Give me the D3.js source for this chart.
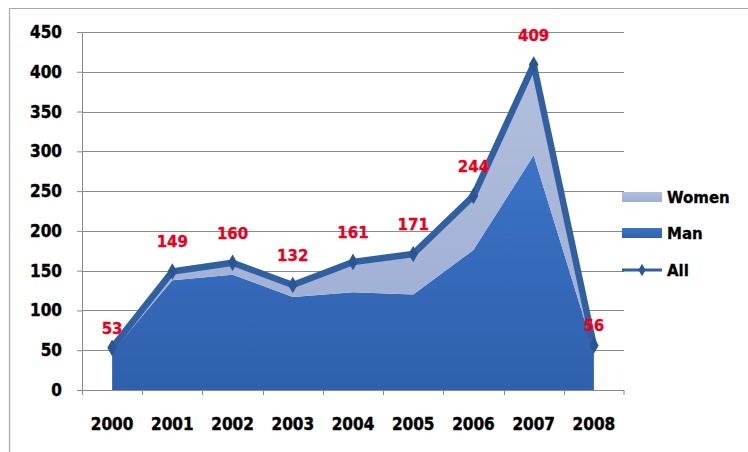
<!DOCTYPE html>
<html>
<head>
<meta charset="utf-8">
<script src="https://cdn.jsdelivr.net/npm/d3@7"></script>
<style>
  html, body { margin: 0; padding: 0; background: #ffffff; }
  svg { display: block; }
</style>
</head>
<body>
<svg id="chart" width="748" height="452"></svg>
<script>
// Yearly counts, 2000–2008
const years = ["2000", "2001", "2002", "2003", "2004", "2005", "2006", "2007", "2008"];
const man   = [48, 138, 145, 117, 123, 120, 176, 295, 50];
const women = [5, 11, 15, 15, 38, 51, 68, 114, 6];
const all   = [53, 149, 160, 132, 161, 171, 244, 409, 56];
const yTicks = [0, 50, 100, 150, 200, 250, 300, 350, 400, 450];
const legendItems = ["Women", "Man", "All"];

const svg = d3.select("#chart");

// outer frame of the figure
svg.append("line").attr("x1", 9.5).attr("x2", 748).attr("y1", 8.5).attr("y2", 8.5)
  .attr("stroke", "#a9a9a9").attr("stroke-width", 1.2);
svg.append("line").attr("x1", 9.5).attr("x2", 9.5).attr("y1", 8.5).attr("y2", 452)
  .attr("stroke", "#a9a9a9").attr("stroke-width", 1.2);

const plot = { left: 82, right: 624, top: 32, bottom: 390 };

const x = d3.scaleBand().domain(years).range([plot.left, plot.right]).paddingInner(0).paddingOuter(0);
const y = d3.scaleLinear().domain([0, 450]).range([plot.bottom, plot.top]);
const cx = d => x(d) + x.bandwidth() / 2;

const table = years.map((yr, i) => ({ year: yr, Man: man[i], Women: women[i], All: all[i] }));
const stacked = d3.stack().keys(["Man", "Women"])(table);

const defs = svg.append("defs");
const gMan = defs.append("linearGradient").attr("id", "gradMan")
  .attr("x1", 0).attr("y1", 0).attr("x2", 0).attr("y2", 1);
gMan.append("stop").attr("offset", "0%").attr("stop-color", "#3b73c6");
gMan.append("stop").attr("offset", "100%").attr("stop-color", "#2f60ad");
const gWomen = defs.append("linearGradient").attr("id", "gradWomen")
  .attr("x1", 0).attr("y1", 0).attr("x2", 0).attr("y2", 1);
gWomen.append("stop").attr("offset", "0%").attr("stop-color", "#b3bfdc");
gWomen.append("stop").attr("offset", "100%").attr("stop-color", "#9dadd4");

// horizontal gridlines
svg.append("g").selectAll("line").data(yTicks.filter(t => t > 0)).join("line")
  .attr("x1", plot.left).attr("x2", plot.right)
  .attr("y1", d => Math.round(y(d)) + 0.5).attr("y2", d => Math.round(y(d)) + 0.5)
  .attr("stroke", "#8a8a8a").attr("stroke-width", 1);

// y axis
const yAxis = svg.append("g").attr("transform", `translate(${plot.left},0)`)
  .call(d3.axisLeft(y).tickValues(yTicks).tickSize(5).tickPadding(15).tickSizeOuter(0));
yAxis.select(".domain").attr("stroke", "#8a8a8a");
yAxis.selectAll(".tick line").attr("stroke", "#8a8a8a");
yAxis.selectAll(".tick text")
  .attr("fill", "#000").attr("font-family", "'DejaVu Sans Condensed', 'DejaVu Sans', sans-serif")
  .style("font-stretch", "condensed").attr("font-weight", "bold").attr("font-size", "17px")
  .attr("stroke", "#000").attr("stroke-width", 0.4);

// stacked areas
const area = d3.area()
  .x(d => cx(d.data.year))
  .y0(d => y(d[0]))
  .y1(d => y(d[1]));
const fills = { Man: "url(#gradMan)", Women: "url(#gradWomen)" };
svg.append("g").selectAll("path").data(stacked).join("path")
  .attr("d", area)
  .attr("fill", d => fills[d.key]);

// x axis with ticks on category boundaries
const xg = svg.append("g");
xg.append("line").attr("x1", plot.left).attr("x2", plot.right)
  .attr("y1", plot.bottom + 0.5).attr("y2", plot.bottom + 0.5).attr("stroke", "#8a8a8a");
xg.selectAll("line.tk").data(years.concat(["end"])).join("line").attr("class", "tk")
  .attr("x1", d => d === "end" ? plot.right : Math.round(x(d)) + 0.5)
  .attr("x2", d => d === "end" ? plot.right : Math.round(x(d)) + 0.5)
  .attr("y1", plot.bottom).attr("y2", plot.bottom + 5).attr("stroke", "#8a8a8a");
xg.selectAll("text").data(years).join("text")
  .attr("x", d => cx(d)).attr("y", plot.bottom + 40)
  .attr("text-anchor", "middle")
  .attr("font-family", "'DejaVu Sans Condensed', 'DejaVu Sans', sans-serif")
  .style("font-stretch", "condensed").attr("font-weight", "bold").attr("font-size", "17px")
  .attr("stroke", "#000").attr("stroke-width", 0.4)
  .attr("fill", "#000").text(d => d);

// total line with diamond markers
const lineColor = "#30609f";
const line = d3.line().x(d => cx(d.year)).y(d => y(d.All));
svg.append("path").datum(table).attr("d", line)
  .attr("fill", "none").attr("stroke", lineColor).attr("stroke-width", 6.5)
  .attr("stroke-linejoin", "round");
const diamond = d3.symbol().type(d3.symbolDiamond).size(80);
svg.append("g").selectAll("path").data(table).join("path")
  .attr("transform", d => `translate(${cx(d.year)},${y(d.All)})`)
  .attr("d", diamond).attr("fill", "#2a5793");

// value labels
svg.append("g").selectAll("text").data(table).join("text")
  .attr("x", d => cx(d.year))
  .attr("y", (d, i) => y(d.All) - (i === 0 || i === table.length - 1 ? 14 : 24))
  .attr("text-anchor", "middle")
  .attr("font-family", "'DejaVu Sans', sans-serif").attr("font-weight", "bold")
  .attr("font-size", "15px").attr("fill", "#e8001e")
  .attr("stroke", "#e8001e").attr("stroke-width", 0.3)
  .text(d => d.All);

// legend
const lg = svg.append("g");
const legY = [197, 233, 270];
legendItems.forEach((name, i) => {
  const yy = legY[i];
  if (name === "All") {
    lg.append("line").attr("x1", 622).attr("x2", 662).attr("y1", yy).attr("y2", yy)
      .attr("stroke", lineColor).attr("stroke-width", 3);
    lg.append("path").attr("transform", `translate(642,${yy})`)
      .attr("d", d3.symbol().type(d3.symbolDiamond).size(45)).attr("fill", "#2a5793");
  } else {
    lg.append("rect").attr("x", 622).attr("y", yy - 5).attr("width", 40).attr("height", 10)
      .attr("fill", name === "Man" ? "url(#gradMan)" : "url(#gradWomen)");
  }
  lg.append("text").attr("x", 667).attr("y", yy + 5.5)
    .attr("font-family", "'DejaVu Sans', sans-serif").attr("font-weight", "bold")
    .attr("font-size", "15px").attr("fill", "#000")
    .attr("stroke", "#000").attr("stroke-width", 0.3).text(name);
});
</script>
</body>
</html>
